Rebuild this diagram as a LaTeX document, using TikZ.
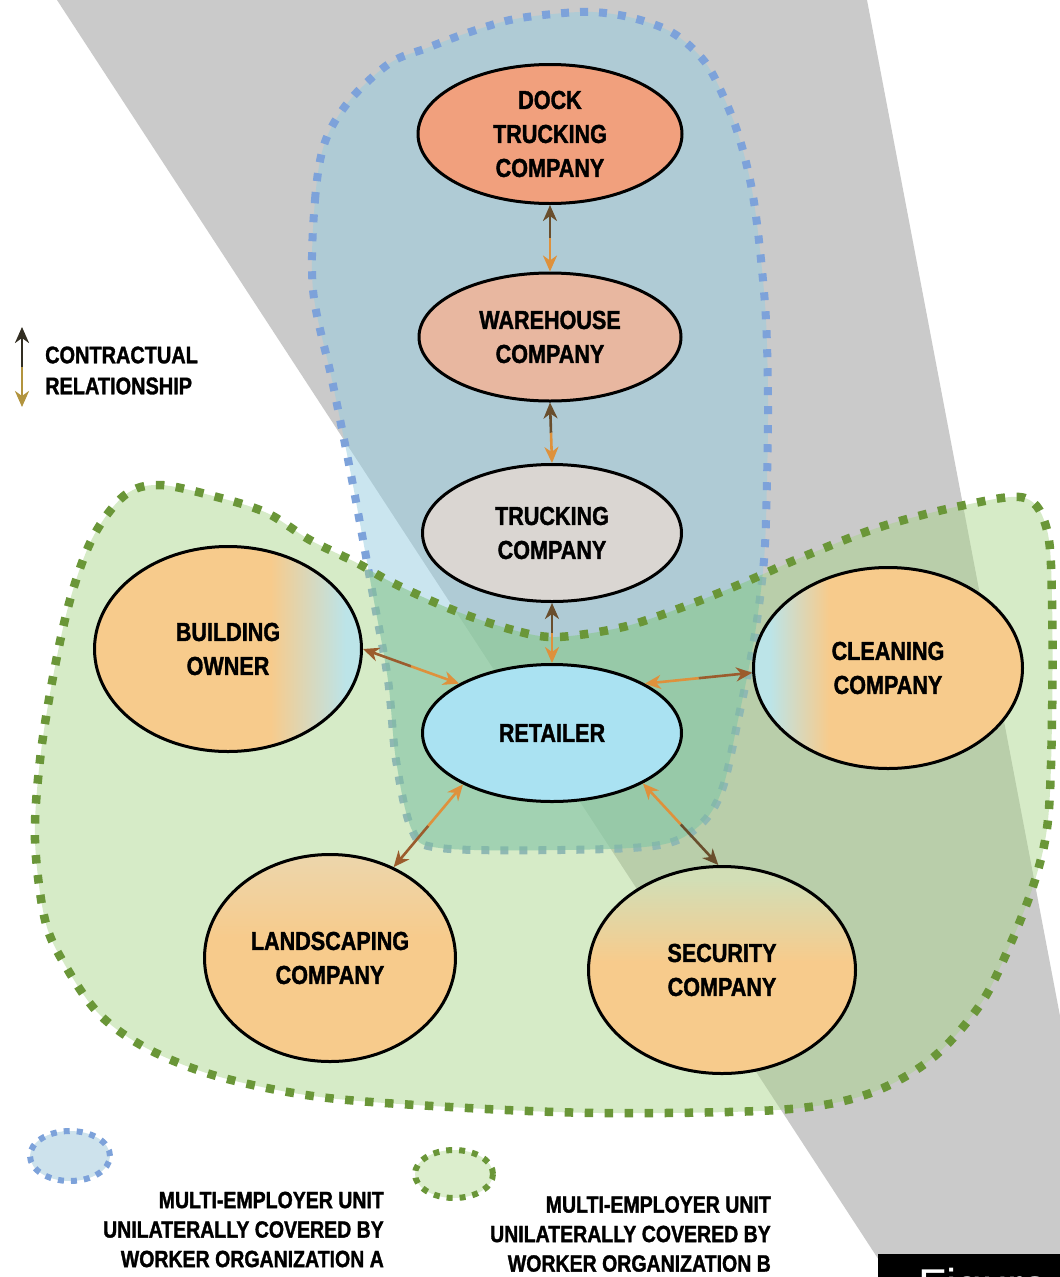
\documentclass[tikz,border=0pt]{standalone}
\usepackage{fontspec}
\setmainfont{Liberation Sans}
\newfontfamily\bcond{Liberation Sans Bold}[FakeStretch=0.83, FakeBold=1.4]
\newfontfamily\figfont{Liberation Sans}
\usetikzlibrary{shapes.geometric,arrows.meta,calc}
\definecolor{hatch}{RGB}{202,202,202}
\definecolor{blueFill}{RGB}{150,205,225}
\definecolor{blueDot}{RGB}{125,162,218}
\definecolor{greenFill}{RGB}{166,211,133}
\definecolor{greenDot}{RGB}{106,150,56}
\definecolor{overlapFill}{RGB}{110,190,150}
\definecolor{dockC}{RGB}{241,160,125}
\definecolor{wareC}{RGB}{232,183,160}
\definecolor{truckC}{RGB}{218,214,210}
\definecolor{retC}{RGB}{170,226,242}
\definecolor{peach}{RGB}{247,203,140}
\definecolor{aqua}{RGB}{188,228,232}
\definecolor{secTop}{RGB}{210,222,182}
\definecolor{landTop}{RGB}{236,214,172}
\definecolor{arrDark}{RGB}{105,78,45}
\definecolor{arrBrown}{RGB}{155,92,45}
\definecolor{arrOrange}{RGB}{222,145,60}
\definecolor{legDark}{RGB}{50,46,34}
\definecolor{legTan}{RGB}{178,148,62}
\definecolor{legBlue}{RGB}{205,226,236}
\definecolor{legGreen}{RGB}{220,238,205}
\pgfdeclarehorizontalshading{boShade}{100bp}{color(0bp)=(peach); color(58bp)=(peach); color(72bp)=(aqua); color(100bp)=(aqua)}
\pgfdeclarehorizontalshading{clShade}{100bp}{color(0bp)=(aqua); color(28bp)=(aqua); color(39bp)=(peach); color(100bp)=(peach)}
\pgfdeclareverticalshading{secShade}{100bp}{color(0bp)=(peach); color(52bp)=(peach); color(72bp)=(secTop); color(100bp)=(secTop)}
\pgfdeclareverticalshading{landShade}{100bp}{color(0bp)=(peach); color(55bp)=(peach); color(75bp)=(landTop); color(100bp)=(landTop)}
\newcommand\conarrow[4]{%
  \draw[conn,#3,tipstart] (#1) -- ($(#1)!0.5!(#2)$);
  \draw[conn,#4,tipend] ($(#1)!0.5!(#2)$) -- (#2);}
\begin{document}
\begin{tikzpicture}[x=1pt,y=-1pt,
  company/.style={ellipse, draw=black, line width=3pt, inner sep=0pt, align=center,
     font=\bcond\fontsize{26}{34}\selectfont},
  conn/.style={line width=2.6pt},
  tipstart/.style={arrows={Stealth[length=16pt,width=14pt,inset=5pt]-}},
  tipend/.style={arrows={-Stealth[length=16pt,width=14pt,inset=5pt]}},
  legtext/.style={font=\bcond\fontsize{23.5}{29.5}\selectfont},
  bluedots/.style={draw=blueDot, line width=8pt, dash pattern=on 8pt off 11pt},
  greendots/.style={draw=greenDot, line width=8.5pt, dash pattern=on 8.5pt off 11.5pt}
]
\useasboundingbox (0,0) rectangle (1060,1277);
\clip (0,0) rectangle (1060,1277);
\fill[white] (0,0) rectangle (1060,1277);
% halftone band
\fill[hatch] (57,0) -- (867,0) -- (1060,1016) -- (1060,1277) -- (890,1277) -- cycle;

\def\bluepath{plot[smooth cycle, tension=0.55] coordinates {
 (313,290) (315,200) (325,142) (350,100) (390,63) (427,48) (467,33) (510,20) (553,14)
 (593,12) (633,18) (673,33) (705,62) (725,100) (740,140) (752,190) (760,250) (766,320)
 (768,400) (767,480) (764,560) (754,640) (738,720) (722,790) (700,825) (660,845)
 (560,850) (440,848) (412,830) (396,760) (388,680) (372,590) (352,480) (332,380)}}
\def\greenpath{plot[smooth cycle, tension=0.55] coordinates {
 (557,637) (513,630) (453,610) (393,583) (357,563) (310,540) (267,513) (217,497) (160,485)
 (125,495) (93,537) (70,600) (53,677) (40,760) (35,840) (45,920) (65,965) (100,1015)
 (150,1050) (220,1077) (320,1097) (450,1107) (600,1113) (777,1110) (865,1095) (930,1060)
 (980,1005) (1010,945) (1035,880) (1048,820) (1052,720) (1052,600) (1047,530) (1025,498)
 (965,505) (880,527) (800,558) (743,583) (683,607) (623,627)}}

% unit A
\fill[blueFill, fill opacity=0.5] \bluepath;
\draw[bluedots] \bluepath;
% unit B
\fill[greenFill, fill opacity=0.45] \greenpath;
\begin{scope}
  \clip \bluepath;
  \fill[overlapFill, fill opacity=0.3] \greenpath;
\end{scope}
\draw[greendots] \greenpath;

% companies
\node[company, fill=dockC, minimum width=264pt, minimum height=139pt] (dock) at (550,134) {DOCK\\TRUCKING\\COMPANY};
\node[company, fill=wareC, minimum width=262pt, minimum height=128pt] (ware) at (550,337) {WAREHOUSE\\COMPANY};
\node[company, fill=truckC, minimum width=259pt, minimum height=137pt] (truck) at (552,533) {TRUCKING\\COMPANY};
\node[company, fill=retC, minimum width=259pt, minimum height=137pt] (ret) at (552,733) {RETAILER};
\node[company, shading=boShade, minimum width=267pt, minimum height=205pt] (bo) at (228,649) {BUILDING\\OWNER};
\node[company, shading=clShade, minimum width=269pt, minimum height=201pt] (clean) at (888,668) {CLEANING\\COMPANY};
\node[company, shading=landShade, minimum width=251pt, minimum height=207pt] (land) at (330,958) {LANDSCAPING\\COMPANY};
\node[company, shading=secShade, minimum width=267pt, minimum height=207pt] (sec) at (722,970) {SECURITY\\COMPANY};

% contractual relationships
\conarrow{dock.south}{ware.north}{arrDark}{arrOrange}
\conarrow{ware.south}{truck.north}{arrDark}{arrOrange}
\conarrow{truck.south}{ret.north}{arrDark}{arrOrange}
\conarrow{bo.east}{ret.152}{arrBrown}{arrOrange}
\conarrow{clean.182}{ret.28}{arrBrown}{arrOrange}
\conarrow{land.55}{ret.210}{arrBrown}{arrOrange}
\conarrow{sec.92}{ret.331}{arrDark}{arrOrange}

% legend: arrow
\coordinate (lgtop) at (22,327);
\coordinate (lgbot) at (22,407);
\conarrow{lgtop}{lgbot}{legDark}{legTan}
\node[anchor=west, align=left, font=\bcond\fontsize{24}{31}\selectfont, inner sep=0pt] (legtxt) at (45,370.5) {CONTRACTUAL\\RELATIONSHIP};

% legend: units
\node[ellipse, fill=legBlue, draw=blueDot, line width=6pt, dash pattern=on 6pt off 7pt, minimum width=80pt, minimum height=50pt] (blobA) at (70,1156) {};
\node[ellipse, fill=legGreen, draw=greenDot, line width=6pt, dash pattern=on 6pt off 7pt, minimum width=78pt, minimum height=48pt] (blobB) at (454,1174) {};
\node[anchor=east, align=right, legtext, inner sep=0pt] (legA) at (384,1229.5) {MULTI-EMPLOYER UNIT\\UNILATERALLY COVERED BY\\WORKER ORGANIZATION A};
\node[anchor=east, align=right, legtext, inner sep=0pt] (legB) at (771,1234) {MULTI-EMPLOYER UNIT\\UNILATERALLY COVERED BY\\WORKER ORGANIZATION B};

% figure tag
\node[fill=black, anchor=north west, minimum width=200pt, minimum height=60pt, inner sep=0pt] (figbox) at (878,1254) {};
\node[anchor=north west, text=white, font=\figfont\fontsize{46}{46}\selectfont, inner sep=0pt] (figtxt) at (918,1268) {Figure 1};
\end{tikzpicture}
\end{document}
